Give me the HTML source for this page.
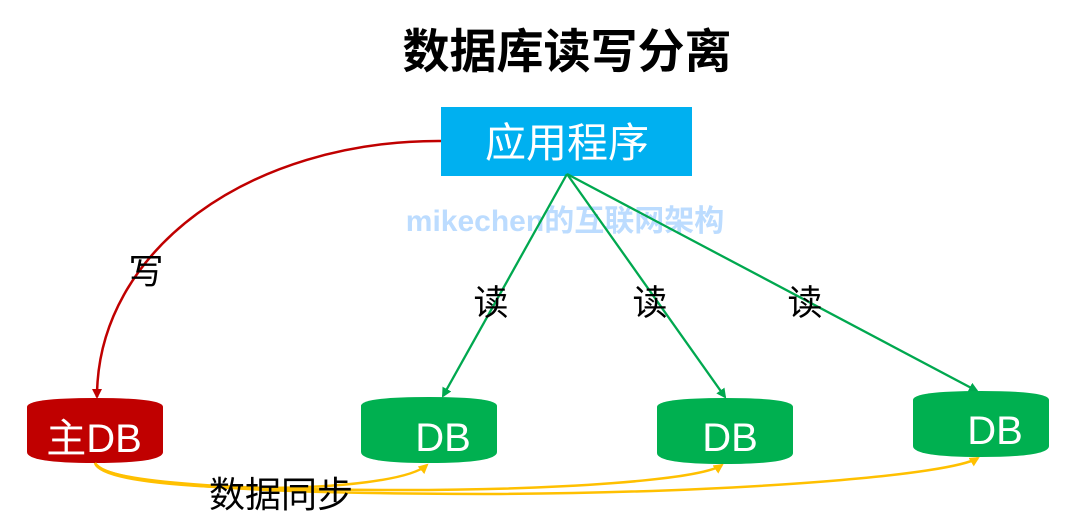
<!DOCTYPE html>
<html><head><meta charset="utf-8"><style>
html,body{margin:0;padding:0;background:#fff;width:1080px;height:525px;overflow:hidden}
svg text{font-family:"Liberation Sans","Noto Sans CJK SC",sans-serif}
</style></head><body>
<svg width="1080" height="525" viewBox="0 0 1080 525" xmlns="http://www.w3.org/2000/svg">
<defs>
<marker id="ar" markerWidth="10" markerHeight="10" refX="8" refY="5" orient="auto" markerUnits="userSpaceOnUse"><path d="M0,0 L10,5 L0,10 z" fill="#c00000"/></marker>
<marker id="ag" markerWidth="10" markerHeight="10" refX="8" refY="5" orient="auto" markerUnits="userSpaceOnUse"><path d="M0,0 L10,5 L0,10 z" fill="#00a84f"/></marker>
<marker id="ay" markerWidth="10" markerHeight="10" refX="8" refY="5" orient="auto" markerUnits="userSpaceOnUse"><path d="M0,0 L10,5 L0,10 z" fill="#ffc000"/></marker>
</defs>
<text x="567" y="68" font-size="47" font-weight="bold" text-anchor="middle" fill="#000">数据库读写分离</text>
<rect x="441" y="107" width="251" height="69" fill="#00b0f0"/>
<text x="567" y="157" font-size="41" text-anchor="middle" fill="#fff">应用程序</text>
<text x="565" y="231" font-size="30" font-weight="bold" text-anchor="middle" fill="#bcdcff">mikechen的互联网架构</text>
<path d="M441,141 C250,140 97,250 97,397" fill="none" stroke="#c00000" stroke-width="2.5" marker-end="url(#ar)"/>
<text x="146" y="284" font-size="35" text-anchor="middle" fill="#000">写</text>
<g stroke="#00a84f" stroke-width="2.3" fill="none">
<line x1="567" y1="174" x2="443" y2="396" marker-end="url(#ag)"/>
<line x1="567" y1="174" x2="725" y2="397" marker-end="url(#ag)"/>
<line x1="567" y1="174" x2="977" y2="391" marker-end="url(#ag)"/>
</g>
<text x="491" y="315" font-size="35" text-anchor="middle" fill="#000">读</text>
<text x="650" y="315" font-size="35" text-anchor="middle" fill="#000">读</text>
<text x="805" y="315" font-size="35" text-anchor="middle" fill="#000">读</text>
<g>
<path d="M27,407 Q27,398 95,398 Q163,398 163,407 L163,452 Q163,463 95,463 Q27,463 27,452 Z" fill="#c00000"/>
<text x="94" y="452" font-size="40" text-anchor="middle" fill="#fff">主DB</text>
<path d="M361,406 Q361,397 429,397 Q497,397 497,406 L497,452 Q497,463 429,463 Q361,463 361,452 Z" fill="#00b050"/>
<text x="443" y="451" font-size="40" text-anchor="middle" fill="#fff">DB</text>
<path d="M657,407 Q657,398 725,398 Q793,398 793,407 L793,453 Q793,464 725,464 Q657,464 657,453 Z" fill="#00b050"/>
<text x="730" y="451" font-size="40" text-anchor="middle" fill="#fff">DB</text>
<path d="M913,400 Q913,391 981,391 Q1049,391 1049,400 L1049,446 Q1049,457 981,457 Q913,457 913,446 Z" fill="#00b050"/>
<text x="995" y="444" font-size="40" text-anchor="middle" fill="#fff">DB</text>
</g>
<g stroke="#ffc000" stroke-width="2.5" fill="none">
<path d="M95,463 C100,480 180,487 260,488 C340,488 410,480 427,465" marker-end="url(#ay)"/>
<path d="M95,463 C105,484 250,490 400,490 C560,490 700,480 722,465" marker-end="url(#ay)"/>
<path d="M95,463 C110,488 300,494 500,494 C750,492 950,475 978,458" marker-end="url(#ay)"/>
</g>
<text x="281" y="507" font-size="36" text-anchor="middle" fill="#000">数据同步</text>
</svg>
</body></html>
